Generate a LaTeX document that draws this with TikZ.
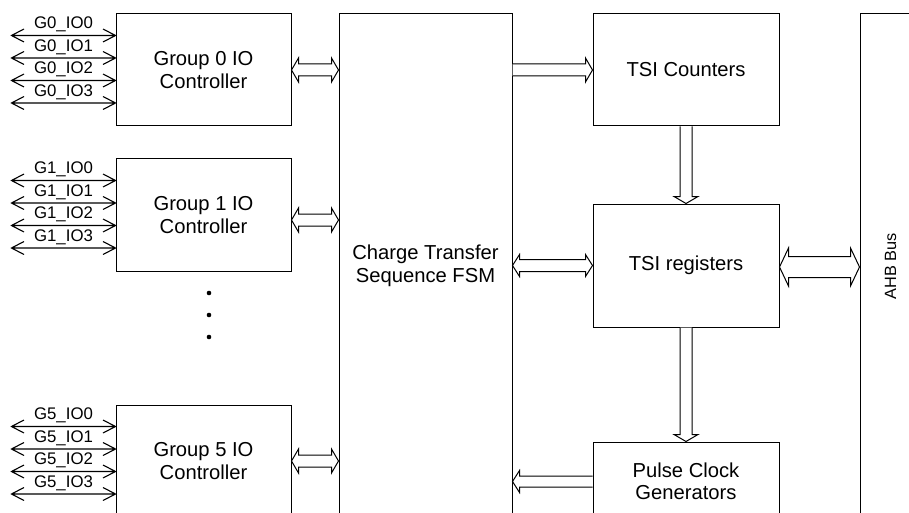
\documentclass[tikz,border=0pt]{standalone}
\usepackage{fontspec}
\setmainfont{Liberation Sans}
\usepackage{graphicx}
\usetikzlibrary{calc,arrows.meta}
\tikzset{
  box/.style={draw, line width=1pt, rectangle, inner sep=0pt, align=center,
    font=\fontsize{20.2}{22.5}\selectfont},
  blk/.style={draw, line width=1pt, fill=white, line join=miter},
  io/.style={line width=1.1pt, line join=miter},
  iolab/.style={font=\fontsize{16.8}{18}\selectfont, inner sep=0pt},
  dot/.style={circle, fill, inner sep=0pt, minimum size=4.6pt},
}
% horizontal double-headed hollow arrow: #1 left, #2 right, #3 shaft half, #4 head half, #5 head length
\newcommand{\hdbl}[5]{%
\draw[blk] let \p1=(#1), \p2=(#2) in
 (\x1,\y1) -- ({\x1+#5},{\y1+#4}) -- ({\x1+#5},{\y1+#3}) -- ({\x2-#5},{\y1+#3})
 -- ({\x2-#5},{\y1+#4}) -- (\x2,\y1) -- ({\x2-#5},{\y1-#4}) -- ({\x2-#5},{\y1-#3})
 -- ({\x1+#5},{\y1-#3}) -- ({\x1+#5},{\y1-#4}) -- cycle;}
% horizontal single hollow arrow: #1 tail, #2 tip
\newcommand{\hsgl}[5]{%
\draw[blk] let \p1=(#1), \p2=(#2), \n1={(\x2-\x1)/abs(\x2-\x1)} in
 (\x1,{\y1+#3}) -- ({\x2-(\n1)*#5},{\y1+#3}) -- ({\x2-(\n1)*#5},{\y1+#4}) -- (\x2,\y1)
 -- ({\x2-(\n1)*#5},{\y1-#4}) -- ({\x2-(\n1)*#5},{\y1-#3}) -- (\x1,{\y1-#3});}
% vertical single hollow arrow: #1 tail, #2 tip
\newcommand{\vsgl}[5]{%
\draw[blk] let \p1=(#1), \p2=(#2), \n1={(\y2-\y1)/abs(\y2-\y1)} in
 ({\x1+#3},\y1) -- ({\x1+#3},{\y2-(\n1)*#5}) -- ({\x1+#4},{\y2-(\n1)*#5}) -- (\x1,\y2)
 -- ({\x1-#4},{\y2-(\n1)*#5}) -- ({\x1-#3},{\y2-(\n1)*#5}) -- ({\x1-#3},\y1);}

\begin{document}
\begin{tikzpicture}[x=1pt,y=-1pt]
\useasboundingbox (0,0) rectangle (909,513);
\clip (0,0) rectangle (909,513);

% boxes
\node[box, minimum width=175pt, minimum height=112pt] (g0) at (203.5,70) {Group 0 IO\\Controller};
\node[box, minimum width=175pt, minimum height=112pt] (g1) at (203.5,215) {Group 1 IO\\Controller};
\node[box, minimum width=175pt, minimum height=112pt] (g5) at (203.5,461) {Group 5 IO\\Controller};
\node[box, minimum width=173pt, minimum height=504pt] (fsm) at (425.5,266) {Charge Transfer\\Sequence FSM};
\node[box, minimum width=186pt, minimum height=112pt] (cnt) at (686,70) {TSI Counters};
\node[box, minimum width=186pt, minimum height=123pt] (reg) at (686,265.5) {TSI registers};
\node[box, minimum width=186pt, minimum height=79pt] (pcg) at (686,481.5) {Pulse Clock\\Generators};
\node[box, minimum width=61pt, minimum height=504pt, font=\fontsize{16.3}{18}\selectfont] (ahb) at (890.5,266) {\rotatebox{90}{AHB Bus}};

% dots
\node[dot] (d1) at (209,293) {};
\node[dot] (d2) at (209,315) {};
\node[dot] (d3) at (209,337) {};

% IO lines with open V heads at both ends
\foreach \g in {0,1,5}{
  \foreach \k/\o in {0/22,1/44.5,2/67,3/89.5}{
    \coordinate (e\g\k) at ([yshift=-\o pt]g\g.north west);
    \path (e\g\k) ++(-104,0) coordinate (s\g\k);
    \draw[io] ([shift={(12.5,-6.5)}]s\g\k) -- (s\g\k) -- ([shift={(12.5,6.5)}]s\g\k)
      (s\g\k) -- (e\g\k) node[iolab, midway, yshift=11pt] {G\g\_IO\k}
      ([shift={(-12.5,-6.5)}]e\g\k) -- (e\g\k) -- ([shift={(-12.5,6.5)}]e\g\k);
  }
}

% group to FSM arrows
\coordinate (a0) at (g0.east);
\coordinate (a1) at ([yshift=-5pt]g1.east);
\coordinate (a5) at (g5.east);
\hdbl{a0}{fsm.west |- a0}{6pt}{12pt}{7pt}
\hdbl{a1}{fsm.west |- a1}{6pt}{12pt}{7pt}
\hdbl{a5}{fsm.west |- a5}{6pt}{12pt}{7pt}

% FSM to counters
\hsgl{fsm.east |- cnt.west}{cnt.west}{6pt}{12pt}{7pt}
% counters to registers
\vsgl{cnt.south}{reg.north}{6pt}{12pt}{7pt}
% FSM <-> registers
\hdbl{fsm.east |- reg.west}{reg.west}{6pt}{11pt}{7pt}
% registers <-> AHB
\coordinate (r1) at ([yshift=-1.5pt]reg.east);
\hdbl{r1}{ahb.west |- r1}{10.5pt}{19pt}{9pt}
% registers to pulse
\vsgl{reg.south}{pcg.north}{6pt}{12pt}{7pt}
% pulse to FSM
\hsgl{pcg.west}{fsm.east |- pcg.west}{5.5pt}{11pt}{7pt}
\end{tikzpicture}
\end{document}
